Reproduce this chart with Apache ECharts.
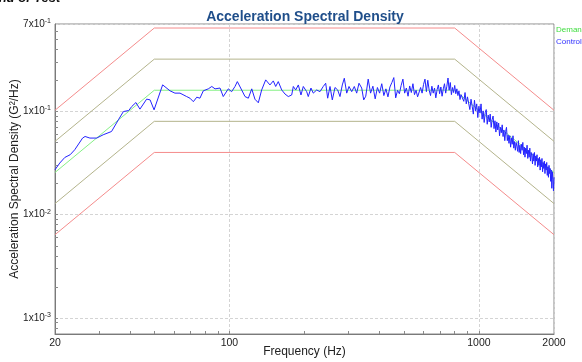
<!DOCTYPE html>
<html><head><meta charset="utf-8">
<script src="https://cdn.jsdelivr.net/npm/echarts@6/dist/echarts.min.js"></script>
<style>html,body{margin:0;padding:0;background:#fff;overflow:hidden}#c{width:582px;height:362px}</style>
</head><body><div id="c"></div>
<script>
// Reference profile breakpoints (Hz) and levels (G²/Hz)
const profileFreq = [20, 50, 800, 2000];
const demand   = [0.0256, 0.16, 0.16, 0.0256];
const alarmHi  = [0.0512, 0.32, 0.32, 0.0512];
const alarmLo  = [0.0128, 0.08, 0.08, 0.0128];
const abortHi  = [0.1024, 0.64, 0.64, 0.1024];
const abortLo  = [0.0064, 0.04, 0.04, 0.0064];

// Control spectrum
const ctrlFreq = [
  20, 20.9, 21.9, 23.0, 24.0, 25.8, 26.4, 27.6, 29.4, 31.2, 33.7, 35.9, 37.6, 39.5, 40.6, 42.2, 43.8, 46.6, 48.1, 49.9,
  54.0, 57.8, 60.5, 63.4, 67.4, 69.5, 71.7, 74.0, 76.2, 78.6, 82.3, 85.0, 87.6, 91.7, 94.5, 99.0, 102.1, 105.3, 107.6, 109.6,
  112.0, 115.5, 119.1, 122.9, 126.6, 130.6, 134.7, 139.8, 145.4, 150.0, 153.3, 157.0, 162.1, 167.1, 172.2, 177.7, 180.4, 184.4, 188.9, 193.6,
  197.8, 204.1, 207.1, 212.3, 216.9, 223.8, 230.7, 237.8, 243.2, 247.7, 253.1, 258.5, 265.0, 271.7, 277.5, 283.5, 288.8, 295.3, 301.6, 309.2,
  316.7, 323.7, 330.7, 339.1, 345.4,
  352, 360, 368, 376, 384, 392, 400, 408, 416, 424, 432, 440, 448, 456, 464, 472, 480, 488, 496, 504,
  512, 520, 528, 536, 544, 552, 560, 568, 576, 584, 592, 600, 608, 616, 624, 632, 640, 648, 656, 664,
  672, 680, 688, 696, 704, 712, 720, 728, 736, 744, 752, 760, 768, 776, 784, 792, 800, 808, 816, 824,
  832, 840, 848,
  860, 870, 880, 890, 900, 910, 920, 930, 940, 950, 960, 970, 980, 990, 1000, 1010, 1020, 1030, 1040, 1050,
  1060, 1070, 1080, 1090, 1100, 1110, 1120, 1130, 1140, 1150, 1160, 1170, 1180, 1190, 1200, 1210, 1220, 1230, 1240, 1250,
  1260, 1270, 1280, 1290, 1300, 1310, 1320, 1330, 1340, 1350, 1360, 1370, 1380, 1390, 1400, 1410, 1420, 1430, 1440, 1450,
  1460, 1470, 1480, 1490, 1500, 1510, 1520, 1530, 1540, 1550, 1560, 1570, 1580, 1590, 1600, 1610, 1620, 1630, 1640, 1650,
  1660, 1670, 1680, 1690, 1700, 1710, 1720, 1730, 1740, 1750, 1760, 1770, 1780, 1790, 1800, 1810, 1820, 1830, 1840, 1850,
  1860, 1870, 1880, 1890, 1900, 1910, 1920, 1930, 1940, 1950, 1960, 1970, 1980, 1990, 2000
];
const ctrlPsd = [
  0.0272, 0.0316, 0.0358, 0.0380, 0.0425, 0.0551, 0.0571, 0.0551, 0.0551, 0.0593, 0.0638, 0.0828, 0.0995, 0.1018, 0.1113, 0.1216, 0.105, 0.1312, 0.1291, 0.1034,
  0.1803, 0.158, 0.150, 0.150, 0.139, 0.134, 0.124, 0.137, 0.134, 0.158, 0.165, 0.174, 0.165, 0.168, 0.139, 0.165, 0.155, 0.174, 0.194, 0.2015,
  0.161, 0.139, 0.134, 0.165, 0.131, 0.121, 0.161, 0.2015, 0.180, 0.197, 0.174, 0.194, 0.161, 0.147, 0.139, 0.144, 0.174, 0.161, 0.180, 0.144,
  0.174, 0.155, 0.139, 0.168, 0.150, 0.161, 0.155, 0.174, 0.187, 0.134, 0.174, 0.129, 0.170, 0.161, 0.139, 0.180, 0.209, 0.150, 0.174, 0.155,
  0.174, 0.150, 0.187, 0.168, 0.129,
  0.140, 0.205, 0.150, 0.175, 0.132, 0.170, 0.150, 0.185, 0.142, 0.165, 0.138, 0.172, 0.190, 0.212, 0.135, 0.160, 0.148, 0.178, 0.205, 0.150,
  0.168, 0.140, 0.176, 0.152, 0.185, 0.145, 0.160, 0.138, 0.133, 0.170, 0.150, 0.182, 0.205, 0.155, 0.200, 0.160, 0.142, 0.175, 0.150, 0.168,
  0.135, 0.162, 0.180, 0.148, 0.172, 0.140, 0.165, 0.185, 0.150, 0.175, 0.210, 0.160, 0.190, 0.145, 0.170, 0.152, 0.178, 0.148, 0.165, 0.142,
  0.158, 0.130, 0.145,
  0.148, 0.125, 0.152, 0.118, 0.138, 0.142, 0.104, 0.131, 0.112, 0.094, 0.128, 0.101, 0.118, 0.087, 0.112, 0.096, 0.118, 0.084, 0.101, 0.078,
  0.097, 0.104, 0.075, 0.092, 0.079, 0.094, 0.070, 0.083, 0.090, 0.068, 0.081, 0.063, 0.079, 0.066, 0.077, 0.058, 0.070, 0.062, 0.074, 0.057,
  0.066, 0.052, 0.064, 0.070, 0.052, 0.059, 0.049, 0.058, 0.045, 0.055, 0.048, 0.058, 0.044, 0.051, 0.042, 0.050, 0.046, 0.041, 0.052, 0.040,
  0.047, 0.039, 0.048, 0.042, 0.050, 0.038, 0.045, 0.036, 0.044, 0.039, 0.047, 0.035, 0.042, 0.036, 0.044, 0.033, 0.040, 0.037, 0.031, 0.039,
  0.033, 0.040, 0.030, 0.037, 0.033, 0.038, 0.029, 0.035, 0.030, 0.036, 0.027, 0.034, 0.029, 0.035, 0.026, 0.032, 0.028, 0.033, 0.025, 0.031,
  0.027, 0.032, 0.024, 0.029, 0.023, 0.030, 0.025, 0.028, 0.021, 0.027, 0.018, 0.026, 0.022, 0.017, 0.023
];

// Axis ticks and labels
const xTickValues = [20, 100, 1000, 2000];
const xTickLabels = ['20', '100', '1000', '2000'];
const xMinorTicks = [30, 40, 50, 60, 70, 80, 90, 100, 200, 300, 400, 500, 600, 700, 800, 900, 1000];
const yTickValues = [0.001, 0.01, 0.1, 0.7];
const yTickMant = ['1', '1', '1', '7'];
const yTickExp = ['-3', '-2', '-1', '-1'];
const yMinorTicks = [0.0008, 0.0009, 0.001, 0.002, 0.003, 0.004, 0.005, 0.006, 0.007, 0.008, 0.009, 0.01,
  0.02, 0.03, 0.04, 0.05, 0.06, 0.07, 0.08, 0.09, 0.1, 0.2, 0.3, 0.4, 0.5, 0.6];

const FONT = '"Liberation Sans", Arial, sans-serif';
const pairs = (xs, ys) => xs.map((x, i) => [x, ys[i]]);
const nearestIdx = (arr, v) => { let b = 0; arr.forEach((a, i) => { if (Math.abs(Math.log(a / v)) < Math.abs(Math.log(arr[b] / v))) b = i; }); return b; };

const chart = echarts.init(document.getElementById('c'), null, { renderer: 'canvas' });
const lineS = (name, data, color, z) => ({
  name, type: 'line', data, showSymbol: false, symbol: 'none', z,
  lineStyle: { color, width: 1 }, itemStyle: { color }, silent: true, animation: false
});

chart.setOption({
  animation: false,
  backgroundColor: '#fff',
  title: {
    text: 'Acceleration Spectral Density', left: 300, top: 5, textAlign: 'center',
    textStyle: { fontFamily: FONT, fontSize: 14, fontWeight: 'bold', color: '#1f4e8a' }
  },
  grid: { left: 55, right: 28, top: 24, bottom: 28, show: true, borderColor: '#8a8a8a', borderWidth: 1,
          containLabel: false, outerBoundsMode: 'none' },
  xAxis: [{
    type: 'log', min: 20, max: 2000, logBase: 10,
    name: 'Frequency (Hz)', nameLocation: 'middle', nameGap: 12, nameMoveOverlap: false,
    nameTextStyle: { fontFamily: FONT, fontSize: 12, color: '#222' },
    axisLine: { show: true, lineStyle: { color: '#7a7a7a' } },
    axisTick: { show: false },
    axisLabel: {
      customValues: xTickValues, fontFamily: FONT, fontSize: 10.5, color: '#222', margin: 4,
      formatter: v => xTickLabels[nearestIdx(xTickValues, v)]
    },
    splitLine: { show: true, lineStyle: { color: '#d4d4d4', type: [3, 2], width: 1 } }
  }, {
    type: 'log', min: 20, max: 2000, logBase: 10, position: 'bottom', gridIndex: 0,
    axisLine: { show: false }, axisLabel: { show: false }, splitLine: { show: false },
    axisTick: { show: true, inside: true, length: 3, customValues: xMinorTicks, lineStyle: { color: '#8a8a8a' } }
  }],
  yAxis: [{
    type: 'log', min: 0.0007, max: 0.7, logBase: 10,
    name: 'Acceleration Spectral Density (G²/Hz)', nameLocation: 'middle', nameGap: 34, nameMoveOverlap: false,
    nameTextStyle: { fontFamily: FONT, fontSize: 12, color: '#222' },
    axisLine: { show: true, lineStyle: { color: '#7a7a7a' } },
    axisTick: { show: false },
    axisLabel: {
      customValues: yTickValues, fontFamily: FONT, fontSize: 10, color: '#222', margin: 4,
      formatter: v => { const i = nearestIdx(yTickValues, v); return yTickMant[i] + 'x10{s|' + yTickExp[i] + '}'; },
      rich: { s: { fontFamily: FONT, fontSize: 7, color: '#222', padding: [0, 0, 6, 0] } }
    },
    splitLine: { show: true, lineStyle: { color: '#d4d4d4', type: [3, 2], width: 1 } }
  }, {
    type: 'log', min: 0.0007, max: 0.7, logBase: 10, position: 'left', gridIndex: 0,
    axisLine: { show: false }, axisLabel: { show: false }, splitLine: { show: false },
    axisTick: { show: true, inside: true, length: 3, customValues: yMinorTicks, lineStyle: { color: '#8a8a8a' } }
  }],
  graphic: [
    { type: 'text', left: -10, top: -8, style: { text: 'End of Test', font: 'italic bold 13px ' + FONT, fill: '#111' } },
    { type: 'text', left: 556, top: 26, style: { text: 'Demand', font: '8px ' + FONT, fill: '#3fdc3f' } },
    { type: 'text', left: 556, top: 38, style: { text: 'Control', font: '8px ' + FONT, fill: '#3030ff' } }
  ],
  series: [
    lineS('Abort High', pairs(profileFreq, abortHi), '#f58c8c', 2),
    lineS('Abort Low', pairs(profileFreq, abortLo), '#f58c8c', 2),
    lineS('Alarm High', pairs(profileFreq, alarmHi), '#b4b48c', 2),
    lineS('Alarm Low', pairs(profileFreq, alarmLo), '#b4b48c', 2),
    lineS('Demand', pairs(profileFreq, demand), '#86f086', 3),
    lineS('Control', pairs(ctrlFreq, ctrlPsd), '#2323ff', 4)
  ]
});
</script>
</body></html>
